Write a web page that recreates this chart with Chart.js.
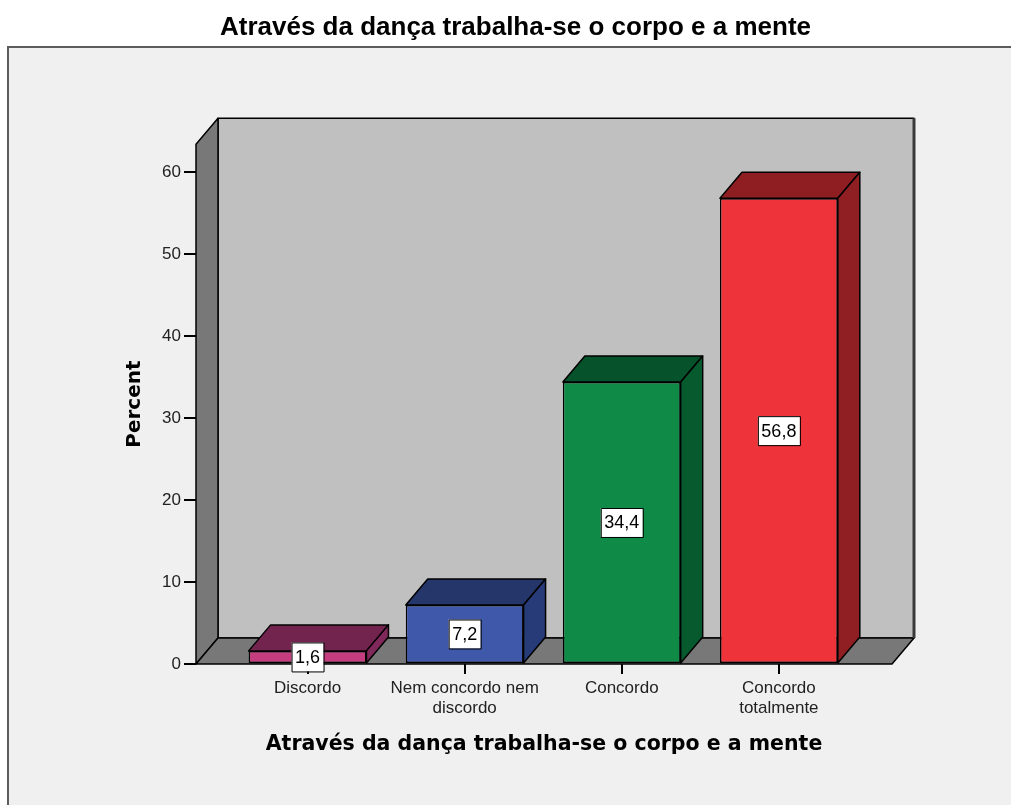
<!DOCTYPE html>
<html>
<head>
<meta charset="utf-8">
<script src="https://cdn.jsdelivr.net/npm/chart.js@4.4.1/dist/chart.umd.min.js"></script>
<style>
  html, body { margin: 0; padding: 0; background: #fff; }
  #wrap { width: 1011px; height: 805px; position: relative; }
</style>
</head>
<body>
<div id="wrap"><canvas id="chart"></canvas></div>
<script>
const chartTitle = 'Através da dança trabalha-se o corpo e a mente';
const categories = [['Discordo'], ['Nem concordo nem', 'discordo'], ['Concordo'], ['Concordo', 'totalmente']];
const percentValues = [1.6, 7.2, 34.4, 56.8];
const yTicks = [0, 10, 20, 30, 40, 50, 60];
const yMax = 63.4;

const frontColors = ['#c53d7f', '#3f58a9', '#0f8a47', '#ef333a'];
const topColors = ['#72244f', '#24366a', '#06522a', '#8e1e22'];
const sideColors = ['#80285a', '#263b77', '#065a2e', '#901f23'];

const DEPTH_X = 22;
const DEPTH_Y = -26;
const FONT = "'Liberation Sans', Arial, sans-serif";
const BOLD_FONT = "'DejaVu Sans', Verdana, sans-serif";

function fillPoly(ctx, pts, fill) {
    ctx.beginPath();
    ctx.moveTo(pts[0][0], pts[0][1]);
    pts.slice(1).forEach(p => ctx.lineTo(p[0], p[1]));
    ctx.closePath();
    ctx.fillStyle = fill;
    ctx.fill();
    ctx.stroke();
}

// grey frame behind everything
const backdrop = {
    id: 'backdrop',
    beforeDraw(chart) {
        const ctx = chart.ctx;
        ctx.save();
        ctx.fillStyle = '#ffffff';
        ctx.fillRect(0, 0, chart.width, chart.height);
        ctx.fillStyle = '#f0f0f0';
        ctx.fillRect(8, 47, chart.width - 8, chart.height - 47);
        ctx.strokeStyle = '#5c5c5c';
        ctx.lineWidth = 2;
        ctx.beginPath();
        ctx.moveTo(8, chart.height);
        ctx.lineTo(8, 47);
        ctx.lineTo(chart.width, 47);
        ctx.stroke();
        ctx.restore();
    }
};

// back wall, left wall and floor of the 3D box
const walls = {
    id: 'walls',
    beforeDatasetsDraw(chart) {
        const ctx = chart.ctx;
        const yScale = chart.scales.y;
        const left = chart.chartArea.left;
        const right = chart.chartArea.right;
        const yb = yScale.getPixelForValue(0);
        const yt = yScale.getPixelForValue(yScale.max);
        ctx.save();
        ctx.strokeStyle = '#000';
        ctx.lineWidth = 1.5;
        ctx.lineJoin = 'round';
        fillPoly(ctx, [[left + DEPTH_X, yt + DEPTH_Y], [right + DEPTH_X, yt + DEPTH_Y],
            [right + DEPTH_X, yb + DEPTH_Y], [left + DEPTH_X, yb + DEPTH_Y]], '#c0c0c0');
        fillPoly(ctx, [[left, yb], [left, yt], [left + DEPTH_X, yt + DEPTH_Y], [left + DEPTH_X, yb + DEPTH_Y]], '#787878');
        fillPoly(ctx, [[left, yb], [right, yb], [right + DEPTH_X, yb + DEPTH_Y], [left + DEPTH_X, yb + DEPTH_Y]], '#787878');
        ctx.strokeStyle = '#3a3a3a';
        ctx.lineWidth = 3;
        ctx.beginPath();
        ctx.moveTo(right + DEPTH_X, yt + DEPTH_Y);
        ctx.lineTo(right + DEPTH_X, yb + DEPTH_Y);
        ctx.stroke();
        ctx.restore();
    }
};

// top and side faces of each bar, then the value boxes
const bars3d = {
    id: 'bars3d',
    afterDatasetsDraw(chart) {
        const ctx = chart.ctx;
        const meta = chart.getDatasetMeta(0);
        ctx.save();
        ctx.strokeStyle = '#000';
        ctx.lineWidth = 1.5;
        ctx.lineJoin = 'round';
        meta.data.forEach((bar, i) => {
            const p = bar.getProps(['x', 'y', 'base', 'width'], true);
            const l = p.x - p.width / 2;
            const r = p.x + p.width / 2;
            fillPoly(ctx, [[l, p.y], [r, p.y], [r + DEPTH_X, p.y + DEPTH_Y], [l + DEPTH_X, p.y + DEPTH_Y]], topColors[i]);
            fillPoly(ctx, [[r, p.y], [r + DEPTH_X, p.y + DEPTH_Y], [r + DEPTH_X, p.base + DEPTH_Y], [r, p.base]], sideColors[i]);
        });
        ctx.font = '18px ' + FONT;
        ctx.textAlign = 'center';
        ctx.textBaseline = 'middle';
        ctx.lineWidth = 1;
        meta.data.forEach((bar, i) => {
            const p = bar.getProps(['x', 'y', 'base'], true);
            const label = percentValues[i].toFixed(1).replace('.', ',');
            const w = ctx.measureText(label).width + 7;
            const h = 29;
            const cy = (p.y + p.base) / 2;
            ctx.fillStyle = '#fff';
            ctx.fillRect(p.x - w / 2, cy - h / 2, w, h);
            ctx.strokeRect(p.x - w / 2 + 0.5, cy - h / 2 + 0.5, w, h);
            ctx.fillStyle = '#000';
            ctx.fillText(label, p.x, cy + 1);
        });
        ctx.restore();
    }
};

new Chart(document.getElementById('chart').getContext('2d'), {
    type: 'bar',
    data: {
        datasets: [{
            data: percentValues.map((v, i) => ({ x: i, y: v })),
            backgroundColor: frontColors,
            borderColor: '#000',
            borderWidth: 1.5,
            borderSkipped: false,
            categoryPercentage: 1,
            barPercentage: 0.75
        }]
    },
    options: {
        responsive: true,
        maintainAspectRatio: false,
        animation: false,
        layout: { padding: { left: 20, right: 0, top: 0, bottom: 0 } },
        plugins: {
            legend: { display: false },
            tooltip: { enabled: false },
            title: {
                display: true,
                text: chartTitle,
                color: '#000',
                font: { family: FONT, size: 26, weight: 'bold' },
                padding: { top: 12, bottom: 101 }
            }
        },
        scales: {
            x: {
                type: 'linear',
                min: -0.71,
                max: 3.72,
                offset: false,
                afterBuildTicks: scale => { scale.ticks = categories.map((c, i) => ({ value: i })); },
                afterFit: scale => { scale.height = 141; },
                ticks: {
                    callback: value => categories[value],
                    color: '#222',
                    font: { family: FONT, size: 17 },
                    padding: 4,
                    maxRotation: 0,
                    autoSkip: false
                },
                grid: { offset: false, drawOnChartArea: false, tickLength: 10, color: '#000', lineWidth: 2 },
                border: { display: false },
                title: {
                    display: true,
                    text: chartTitle,
                    color: '#000',
                    font: { family: BOLD_FONT, size: 20.5, weight: 'bold' },
                    padding: { top: 0, bottom: 48 }
                }
            },
            y: {
                min: 0,
                max: yMax,
                afterBuildTicks: scale => { scale.ticks = yTicks.map(v => ({ value: v })); },
                afterFit: scale => { scale.width = 176; },
                ticks: { color: '#222', font: { family: FONT, size: 17 }, padding: 3 },
                grid: { drawOnChartArea: false, tickLength: 12, color: '#000', lineWidth: 2 },
                border: { display: false },
                title: {
                    display: true,
                    text: 'Percent',
                    color: '#000',
                    font: { family: BOLD_FONT, size: 20, weight: 'bold' },
                    padding: { top: 103, bottom: 0 }
                }
            },
            y2: {
                position: 'right',
                afterFit: scale => { scale.width = 119; },
                ticks: { display: false },
                grid: { display: false },
                border: { display: false }
            }
        }
    },
    plugins: [backdrop, walls, bars3d]
});
</script>
</body>
</html>
